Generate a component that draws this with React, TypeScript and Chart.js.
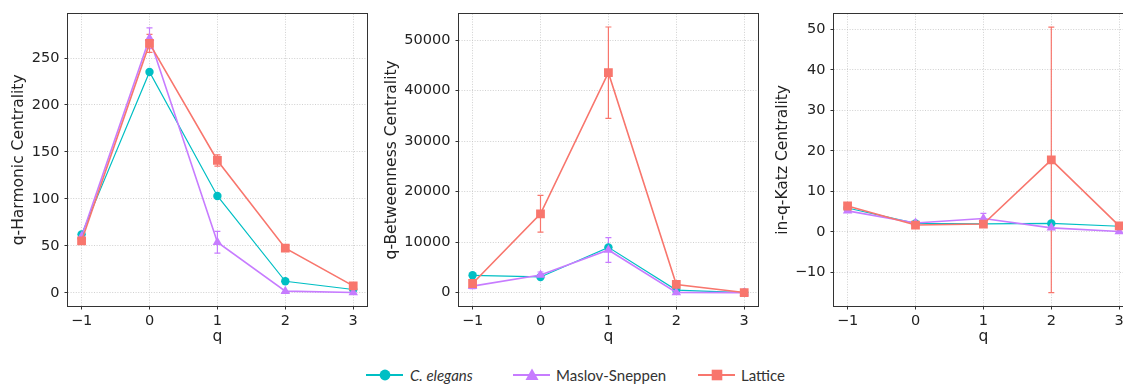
import React, { useEffect, useRef } from 'react';
import { Chart, registerables } from 'chart.js';

Chart.register(...registerables);

// ---------- data ----------
const qValues = [-1, 0, 1, 2, 3];
const seriesNames = ['C. elegans', 'Maslov-Sneppen', 'Lattice'];
const seriesColors = ['#00BFC4', '#C77CFF', '#F8766D'];

// q-Harmonic Centrality
const harmonicElegans = [62.2, 235.2, 103.1, 12.2, 3.5];
const harmonicElegansErr = [0, 0, 0, 0, 0];
const harmonicMaslov = [60, 271, 53.8, 1.7, 0.2];
const harmonicMaslovErr = [0, 11, 11.5, 0, 0];
const harmonicLattice = [55.2, 265.6, 140.9, 47.5, 7.3];
const harmonicLatticeErr = [0, 9.5, 6, 0, 0];

// q-Betweenness Centrality
const betweenElegans = [3450, 3125, 8980, 520, 20];
const betweenElegansErr = [0, 0, 0, 0, 0];
const betweenMaslov = [1300, 3500, 8460, 65, 10];
const betweenMaslovErr = [500, 600, 2450, 0, 0];
const betweenLattice = [1823, 15625, 43550, 1630, 30];
const betweenLatticeErr = [0, 3650, 9050, 0, 0];

// in-q-Katz Centrality
const katzElegans = [5.9, 2.1, 2.0, 2.1, 1.4];
const katzElegansErr = [0, 0, 0, 0, 0];
const katzMaslov = [5.2, 2.2, 3.3, 1.0, 0.1];
const katzMaslovErr = [0.3, 0, 1.3, 0, 0];
const katzLattice = [6.4, 1.7, 1.95, 17.8, 1.5];
const katzLatticeErr = [0, 0, 0, 32.8, 0];

// tick values
const xTicks = [-1, 0, 1, 2, 3];
const harmonicTicks = [0, 50, 100, 150, 200, 250];
const betweenTicks = [0, 10000, 20000, 30000, 40000, 50000];
const katzTicks = [-10, 0, 10, 20, 30, 40, 50];

const yTitles = ['q-Harmonic Centrality', 'q-Betweenness Centrality', 'in-q-Katz Centrality'];
const xTitle = 'q';

// ---------- styling ----------
const TICK_FONT = { family: 'DejaVu Sans', size: 14.5 };
const TITLE_FONT = { family: 'DejaVu Sans', size: 15.5 };
const TEXT_COLOR = '#222222';
const GRID_COLOR = '#c4c4c4';

const errorBarPlugin = {
  id: 'errorBars',
  beforeDatasetsDraw(chart: any) {
    const { ctx } = chart;
    const ys = chart.scales.y;
    chart.data.datasets.forEach((ds: any, i: number) => {
      const meta = chart.getDatasetMeta(i);
      const errs: number[] = ds.errors || [];
      meta.data.forEach((pt: any, j: number) => {
        const e = errs[j];
        if (!e) return;
        const v = ds.data[j].y;
        const yt = ys.getPixelForValue(v + e);
        const yb = ys.getPixelForValue(v - e);
        ctx.save();
        ctx.strokeStyle = ds.borderColor;
        ctx.lineWidth = 1.2;
        ctx.beginPath();
        ctx.moveTo(pt.x, yt);
        ctx.lineTo(pt.x, yb);
        ctx.moveTo(pt.x - 3, yt);
        ctx.lineTo(pt.x + 3, yt);
        ctx.moveTo(pt.x - 3, yb);
        ctx.lineTo(pt.x + 3, yb);
        ctx.stroke();
        ctx.restore();
      });
    });
  },
};

const framePlugin = {
  id: 'frame',
  afterDraw(chart: any) {
    const { ctx, chartArea } = chart;
    ctx.save();
    ctx.strokeStyle = '#333333';
    ctx.lineWidth = 1;
    const l = Math.round(chartArea.left) - 0.5;
    const t = Math.round(chartArea.top) - 0.5;
    const r = Math.round(chartArea.right) + 0.5;
    const b = Math.round(chartArea.bottom) + 0.5;
    ctx.strokeRect(l, t, r - l, b - t);
    ctx.restore();
  },
};

const fmt = (v: any) => String(v).replace('-', '\u2212');

type PanelProps = {
  left: number;
  width: number;
  yWidth: number;
  yTitle: string;
  series: number[][];
  errors: number[][];
  yMin: number;
  yMax: number;
  yTicks: number[];
};

const CANVAS_H = 346;

function Panel(props: PanelProps) {
  const ref = useRef<HTMLCanvasElement | null>(null);
  useEffect(() => {
    if (!ref.current) return;
    const pointStyles = ['circle', 'triangle', 'rect'];
    const radii = [4.2, 5.5, 6.2];
    const widths = [1.2, 1.6, 1.6];
    const orders = [3, 2, 1];
    const datasets = props.series.map((vals, i) => ({
      label: seriesNames[i],
      data: qValues.map((q, j) => ({ x: q, y: vals[j] })),
      errors: props.errors[i],
      showLine: true,
      borderColor: seriesColors[i],
      backgroundColor: seriesColors[i],
      borderWidth: widths[i],
      pointStyle: pointStyles[i],
      pointRadius: radii[i],
      pointBackgroundColor: seriesColors[i],
      pointBorderWidth: 0,
      order: orders[i],
    }));
    const gridOpts = {
      color: GRID_COLOR,
      lineWidth: 0.8,
      drawTicks: true,
      tickLength: 3.5,
      tickColor: '#333333',
      tickWidth: 1,
    };
    const chart = new Chart(ref.current, {
      type: 'scatter',
      data: { datasets } as any,
      plugins: [errorBarPlugin, framePlugin],
      options: {
        animation: false,
        responsive: false,
        devicePixelRatio: 1,
        layout: { padding: { left: 0, right: 6, top: 11, bottom: 0 } },
        plugins: { legend: { display: false }, tooltip: { enabled: false } },
        scales: {
          x: {
            type: 'linear',
            min: -1.2,
            max: 3.2,
            afterBuildTicks: (s: any) => {
              s.ticks = xTicks.map((v) => ({ value: v }));
            },
            afterFit: (s: any) => {
              s.height = CANVAS_H - 11 - 295;
            },
            ticks: {
              callback: fmt,
              font: TICK_FONT,
              color: TEXT_COLOR,
              padding: 3.3,
              maxRotation: 0,
              autoSkip: false,
            },
            grid: gridOpts,
            border: { display: false, dash: [1, 1.6] },
            title: {
              display: true,
              text: xTitle,
              font: TITLE_FONT,
              color: TEXT_COLOR,
              padding: { top: 1.7, bottom: 0 },
            },
          },
          y: {
            type: 'linear',
            min: props.yMin,
            max: props.yMax,
            afterBuildTicks: (s: any) => {
              s.ticks = props.yTicks.map((v) => ({ value: v }));
            },
            afterFit: (s: any) => {
              s.width = props.yWidth;
            },
            ticks: {
              callback: fmt,
              font: TICK_FONT,
              color: TEXT_COLOR,
              padding: 5,
              autoSkip: false,
            },
            grid: gridOpts,
            border: { display: false, dash: [1, 1.6] },
            title: {
              display: true,
              text: props.yTitle,
              font: TITLE_FONT,
              color: TEXT_COLOR,
              padding: { top: 0.7, bottom: 0 },
            },
          },
        },
      } as any,
    });
    return () => chart.destroy();
  }, []);
  return (
    <canvas
      ref={ref}
      width={props.width}
      height={CANVAS_H}
      style={{ position: 'absolute', left: props.left, top: 0, width: props.width, height: CANVAS_H }}
    />
  );
}

function LegendItem({ left, textLeft, color, marker, label, italic }: any) {
  let m: any = null;
  if (marker === 'circle') m = <circle cx={19} cy={8} r={5.4} fill={color} />;
  if (marker === 'triangle') m = <polygon points="19,1.5 25.5,13 12.5,13" fill={color} />;
  if (marker === 'rect') m = <rect x={13.7} y={2.7} width={10.6} height={10.6} fill={color} />;
  return (
    <>
      <svg width={38} height={16} style={{ position: 'absolute', left, top: 367 }}>
        <line x1={0} y1={8} x2={37} y2={8} stroke={color} strokeWidth={2} />
        {m}
      </svg>
      <div
        style={{
          position: 'absolute',
          left: textLeft,
          top: 365,
          lineHeight: '20px',
          fontFamily: 'Lato',
          fontSize: 15,
          color: '#333333',
          fontStyle: italic ? 'italic' : 'normal',
          whiteSpace: 'nowrap',
        }}
      >
        {label}
      </div>
    </>
  );
}

export default function App() {
  return (
    <div
      style={{
        position: 'fixed',
        left: 0,
        top: 0,
        width: 1123,
        height: 384,
        overflow: 'hidden',
        background: '#ffffff',
      }}
    >
      <Panel
        left={9}
        width={364}
        yWidth={59}
        yTitle={yTitles[0]}
        series={[harmonicElegans, harmonicMaslov, harmonicLattice]}
        errors={[harmonicElegansErr, harmonicMaslovErr, harmonicLatticeErr]}
        yMin={-14.1}
        yMax={297.2}
        yTicks={harmonicTicks}
      />
      <Panel
        left={382}
        width={382}
        yWidth={77}
        yTitle={yTitles[1]}
        series={[betweenElegans, betweenMaslov, betweenLattice]}
        errors={[betweenElegansErr, betweenMaslovErr, betweenLatticeErr]}
        yMin={-2630}
        yMax={55230}
        yTicks={betweenTicks}
      />
      <Panel
        left={773}
        width={366}
        yWidth={61}
        yTitle={yTitles[2]}
        series={[katzElegans, katzMaslov, katzLattice]}
        errors={[katzElegansErr, katzMaslovErr, katzLatticeErr]}
        yMin={-18.3}
        yMax={53.9}
        yTicks={katzTicks}
      />
      <LegendItem left={366} textLeft={410} color={seriesColors[0]} marker="circle" label={seriesNames[0]} italic />
      <LegendItem left={513} textLeft={556} color={seriesColors[1]} marker="triangle" label={seriesNames[1]} />
      <LegendItem left={698} textLeft={741} color={seriesColors[2]} marker="rect" label={seriesNames[2]} />
    </div>
  );
}
